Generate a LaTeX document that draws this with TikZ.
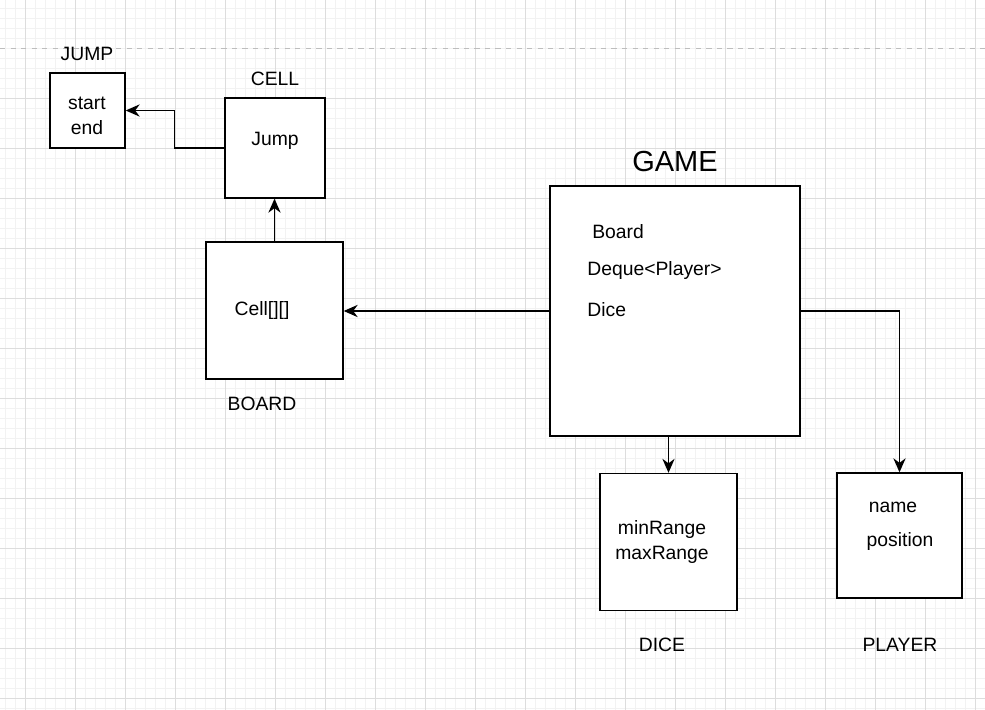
\documentclass[tikz,border=0pt]{standalone}
\usepackage{fontspec}
\setmainfont{Liberation Sans}
\usetikzlibrary{arrows.meta}

\definecolor{gridminor}{HTML}{F2F2F2}
\definecolor{gridmajor}{HTML}{DDDDDD}
\definecolor{pageline}{HTML}{BDBDBD}

\tikzset{
  box/.style={draw, line width=0.8pt, fill=white, inner sep=0pt},
  link/.style={line width=0.7pt, -{Stealth[length=8pt,width=7pt,inset=2.6pt]}},
  txt/.style={font=\fontsize{11}{14.2}\selectfont, inner sep=0pt, align=center},
}

\begin{document}
\begin{tikzpicture}[x=0.02cm,y=-0.02cm]
  \useasboundingbox (0,0) rectangle (985,710);
  \fill[white] (0,0) rectangle (985,710);
  % background grid
  \foreach \x in {5,15,...,985} \draw[gridminor,line width=0.4pt] (\x,0) -- (\x,710);
  \foreach \y in {8,18,...,708} \draw[gridminor,line width=0.4pt] (0,\y) -- (985,\y);
  \foreach \x in {25,75,...,975} \draw[gridmajor,line width=0.5pt] (\x,0) -- (\x,710);
  \foreach \y in {98,148,...,698} \draw[gridmajor,line width=0.5pt] (0,\y) -- (985,\y);
  \draw[pageline,dashed,line width=0.5pt] (0,48) -- (985,48);

  % boxes
  \node[box,minimum width=1.5cm,minimum height=1.5cm] (jump) at (87.5,110.5) {};
  \node[box,minimum width=2cm,minimum height=2cm] (cell) at (275,148) {};
  \node[box,minimum width=2.74cm,minimum height=2.74cm] (board) at (274.5,310.5) {};
  \node[box,minimum width=5cm,minimum height=5cm] (game) at (675,311) {};
  \node[box,minimum width=2.74cm,minimum height=2.74cm] (dice) at (668.5,542) {};
  \node[box,minimum width=2.5cm,minimum height=2.5cm] (player) at (899.5,535.5) {};

  % titles
  \node[txt] (jumptitle) at (87,54) {JUMP};
  \node[txt] (celltitle) at (275,79) {CELL};
  \node[txt] (boardtitle) at (262,404) {BOARD};
  \node[txt,font=\fontsize{16.5}{20}\selectfont] (gametitle) at (675,162) {GAME};
  \node[txt] (dicetitle) at (662,645) {DICE};
  \node[txt] (playertitle) at (900,645) {PLAYER};

  % fields
  \node[txt] (jumpfields) at (87,116) {start\\end};
  \node[txt] (cellfields) at (275,141) {Jump};
  \node[txt] (boardfields) at (262,311) {Cell[][]};
  \node[txt,anchor=west] (gameboard) at (592,232) {Board};
  \node[txt,anchor=west] (gamedeque) at (587,271) {Deque<Player>};
  \node[txt,anchor=west] (gamedice) at (587,310) {Dice};
  \node[txt] (dicefields) at (662,542) {minRange\\maxRange};
  \node[txt] (playername) at (893,507) {name};
  \node[txt] (playerpos) at (900,541) {position};

  % connectors
  \draw[link] (cell.west) -- ++(-50,0) |- (jump.east);
  \draw[link] (board.north) -- (board.north |- cell.south);
  \draw[link] (game.west) -- (board.east |- game.west);
  \draw[link] (game.south -| dice.north) -- (dice.north);
  \draw[link] (game.east) -| (player.north);
\end{tikzpicture}
\end{document}
